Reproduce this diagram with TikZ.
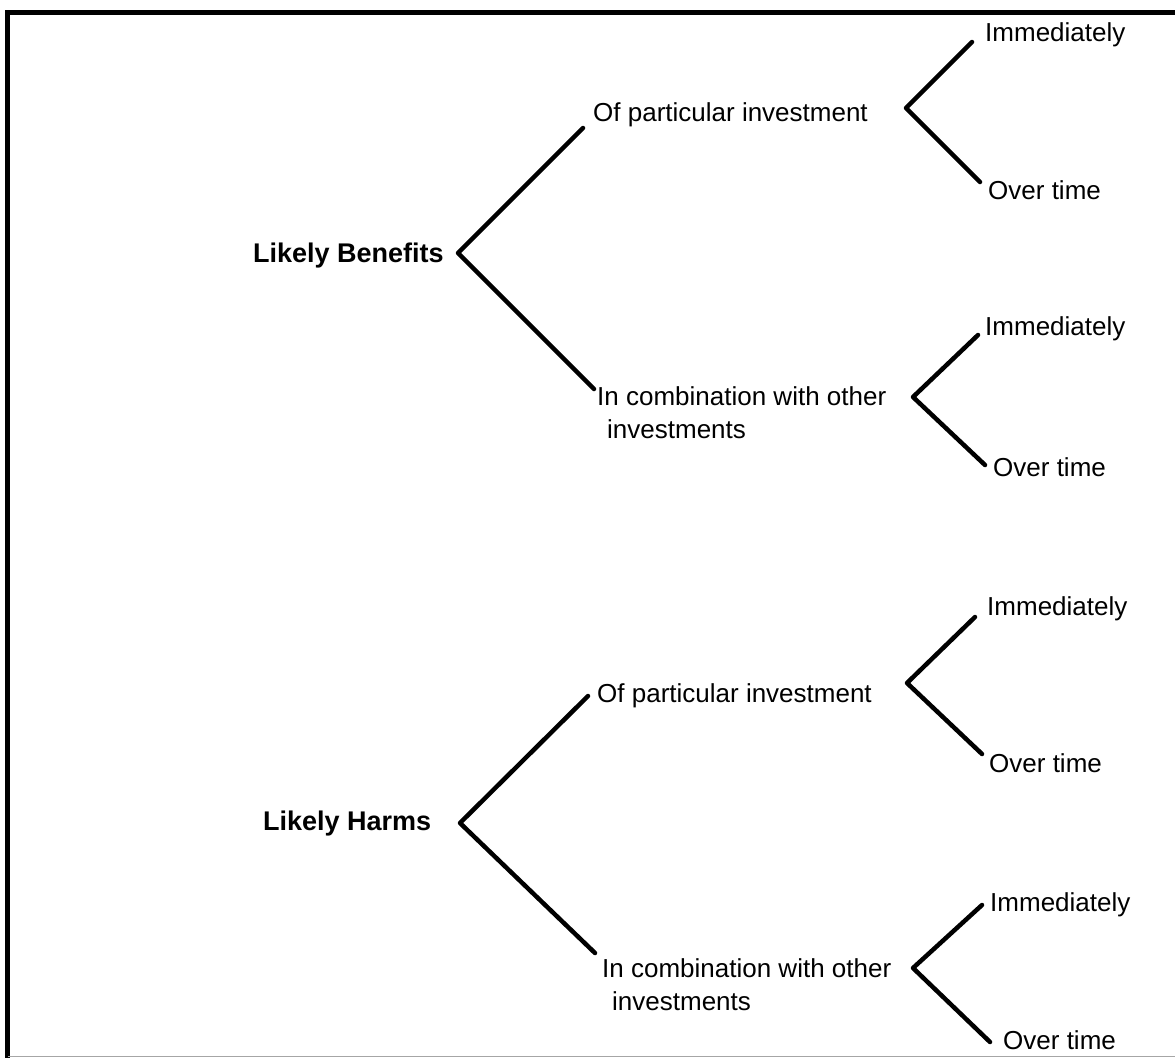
\documentclass[tikz,border=0pt]{standalone}
\usepackage{fontspec}
\setmainfont{Liberation Sans}
\begin{document}
\begin{tikzpicture}[x=1pt,y=-1pt,
  lbl/.style={anchor=base west,inner sep=0pt,font=\fontsize{26}{33}\selectfont},
  rootlbl/.style={lbl,font=\fontsize{27}{33}\selectfont\bfseries},
  twolbl/.style={lbl,align=left},
  branch/.style={line width=4.5pt,line cap=round,line join=round}]
\useasboundingbox (0,0) rectangle (1175,1058);
% frame
\draw[line width=5pt] (5,12.5) -- (1175,12.5);
\draw[line width=5pt] (7.5,10) -- (7.5,1058);
\draw[gray!70,line width=1.5pt] (8,1056.5) -- (1175,1056.5);

% ---- Likely Benefits ----
\node[rootlbl] (LB) at (253,262) {Likely Benefits};
\node[lbl] (OB1) at (593,121) {Of particular investment};
\node[lbl] (IB11) at (985,41) {Immediately};
\node[lbl] (OB12) at (988,199) {Over time};
\node[twolbl] (CB) at (597,438) {In combination with other\\\hspace*{10pt}investments};
\node[lbl] (IB21) at (985,335) {Immediately};
\node[lbl] (OB22) at (993,476) {Over time};

\coordinate (vB) at (458,253);
\coordinate (eB1) at (583,128);
\coordinate (eB2) at (594,389);
\coordinate (vB1) at (906,108);
\coordinate (eB11) at (972,42);
\coordinate (eB12) at (980,182);
\coordinate (vB2) at (913,397);
\coordinate (eB21) at (978,335);
\coordinate (eB22) at (985,465);

\draw[branch] (eB1) -- (vB) -- (eB2);
\draw[branch] (eB11) -- (vB1) -- (eB12);
\draw[branch] (eB21) -- (vB2) -- (eB22);

% ---- Likely Harms ----
\node[rootlbl] (LH) at (263,830) {Likely Harms};
\node[lbl] (OH1) at (597,702) {Of particular investment};
\node[lbl] (IH11) at (987,615) {Immediately};
\node[lbl] (OH12) at (989,772) {Over time};
\node[twolbl] (CH) at (602,1010) {In combination with other\\\hspace*{10pt}investments};
\node[lbl] (IH21) at (990,911) {Immediately};
\node[lbl] (OH22) at (1003,1049) {Over time};

\coordinate (vH) at (460,823);
\coordinate (eH1) at (588,696);
\coordinate (eH2) at (595,953);
\coordinate (vH1) at (907,683);
\coordinate (eH11) at (975,617);
\coordinate (eH12) at (982,754);
\coordinate (vH2) at (913,968);
\coordinate (eH21) at (982,905);
\coordinate (eH22) at (990,1042);

\draw[branch] (eH1) -- (vH) -- (eH2);
\draw[branch] (eH11) -- (vH1) -- (eH12);
\draw[branch] (eH21) -- (vH2) -- (eH22);
\end{tikzpicture}
\end{document}
